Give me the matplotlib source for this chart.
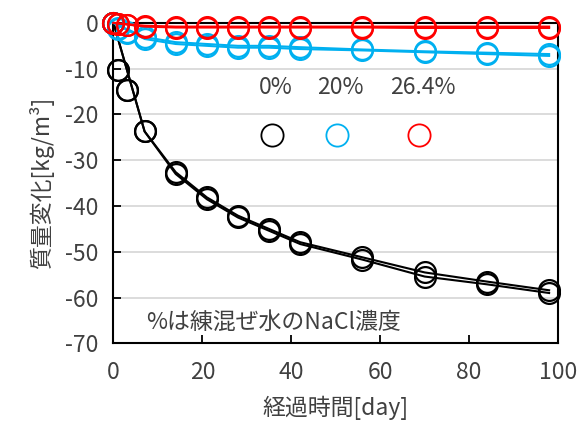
import matplotlib
matplotlib.use("Agg")
import matplotlib.pyplot as plt
import numpy as np

plt.rcParams['font.family'] = ['Noto Sans CJK JP', 'DejaVu Sans']
plt.rcParams['axes.unicode_minus'] = False

# measurement days and mass change [kg/m3], two specimens per NaCl level
days = [0, 1, 3, 7, 14, 21, 28, 35, 42, 56, 70, 84, 98]
black_1 = [0, -10.3, -14.6, -23.7, -32.6, -38.1, -42.1, -45.0, -47.9, -51.2, -54.5, -56.5, -58.4]
black_2 = [0, -10.3, -14.6, -23.7, -33.0, -38.5, -42.5, -45.4, -48.3, -51.7, -55.4, -57.1, -59.0]
blue_1 = [0, -1.2, -2.0, -3.1, -4.2, -4.6, -5.0, -5.0, -5.3, -5.8, -6.2, -6.5, -6.8]
blue_2 = [0, -1.4, -2.3, -3.5, -4.6, -5.0, -5.4, -5.4, -5.7, -6.0, -6.4, -6.8, -7.2]
red_1 = [0, -0.2, -0.4, -0.6, -0.8, -0.8, -0.8, -0.8, -0.8, -0.8, -0.8, -0.8, -0.8]
red_2 = [0, -0.3, -0.5, -0.8, -1.0, -1.0, -1.0, -1.0, -1.0, -1.0, -1.1, -1.1, -1.1]

labels = ['0%', '20%', '26.4%']
colors = ['black', '#00B0F0', '#FF0000']
series = [(black_1, black_2), (blue_1, blue_2), (red_1, red_2)]

text_color = '#404040'
fs = 16.5

fig = plt.figure(figsize=(5.88, 4.33), dpi=100)
ax = fig.add_axes([0.193, 0.207, 0.756, 0.740])

d = np.array(days)
weekly = (d == 0) | (d >= 7)  # lines only join the weekly readings

for k, (s1, s2) in enumerate(series):
    for s in (s1, s2):
        y = np.array(s)
        ax.plot(d[weekly], y[weekly], color=colors[k], lw=1.5, zorder=3 + k, clip_on=False)
        ax.plot(d, y, ls='none', marker='o', ms=15, mfc='none', mec=colors[k],
                mew=1.6, zorder=3 + k, clip_on=False)

ax.set_xlim(0, 100)
ax.set_ylim(-70, 0)
ax.set_xticks(np.arange(0, 101, 20))
ax.set_yticks(np.arange(-70, 1, 10))
ax.grid(axis='y', color='#D9D9D9', lw=1.3)
ax.set_axisbelow(True)
ax.tick_params(direction='in', length=6, width=1.3, colors='black',
               labelcolor=text_color, labelsize=fs, pad=11)
ax.tick_params(axis='x', pad=13)
for sp in ax.spines.values():
    sp.set_color('black')
    sp.set_linewidth(1.5)

ax.set_xlabel('経過時間[day]', fontsize=fs, color=text_color, labelpad=8)
ax.set_ylabel('質量変化[kg/m³]', fontsize=fs, color=text_color, labelpad=8)

# legend made of text labels above empty circles
leg_x = [36.5, 51.0, 69.5]
for k in range(3):
    ax.text(leg_x[k], -14.2, labels[k], ha='center', va='center', fontsize=fs, color=text_color)
    ax.plot(leg_x[k] - 0.8, -24.5, ls='none', marker='o', ms=16, mfc='none',
            mec=colors[k], mew=1.3)

ax.text(36, -65.5, '%は練混ぜ水のNaCl濃度', ha='center', va='center', fontsize=fs, color=text_color)

fig.savefig('out.png', dpi=100)
